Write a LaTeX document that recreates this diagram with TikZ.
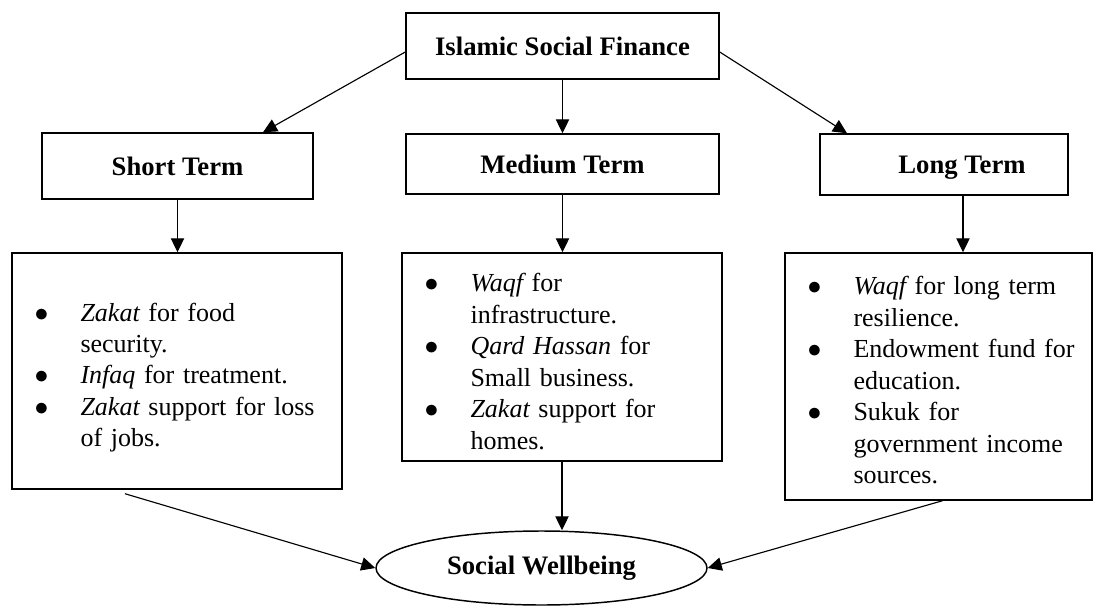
\documentclass[tikz,border=0pt]{standalone}
\usepackage{fontspec}
\setmainfont{Liberation Serif}
\usetikzlibrary{arrows.meta,shapes.geometric}

\newlength\px
\setlength\px{0.75pt}

% bullet list used inside the three boxes
\newenvironment{fundlist}{%
  \begin{list}{$\bullet$}{%
    \setlength\leftmargin{46\px}%
    \settowidth\labelwidth{$\bullet$}%
    \setlength\labelsep{\dimexpr46\px-\labelwidth\relax}%
    \setlength\itemsep{0pt}\setlength\parsep{0pt}%
    \setlength\topsep{0pt}\setlength\partopsep{0pt}}\raggedright}%
  {\end{list}}

\begin{document}
\begin{tikzpicture}[x=0.75pt,y=-0.75pt,
  every node/.style={font=\fontsize{19.5pt}{23.6pt}\selectfont},
  headbox/.style={draw,line width=1.1pt,inner sep=0pt,text height=13.7pt,text depth=0pt,
    font=\fontsize{20pt}{23.6pt}\selectfont\bfseries},
  listbox/.style={draw,line width=1.1pt,inner sep=0pt},
  listtext/.style={anchor=west,text width=290\px,align=left,inner sep=0pt},
  link/.style={-{Triangle[length=10.5pt,width=10pt]},line width=0.85pt}]

\useasboundingbox (0,0) rectangle (1096,607);

% Top
\node[headbox,minimum width=313\px,minimum height=66\px] (isf) at (562.5,46) {Islamic Social Finance};

% Terms
\node[headbox,minimum width=271\px,minimum height=66\px] (st) at (177.5,166) {Short Term};
\node[headbox,minimum width=313\px,minimum height=60\px] (mt) at (562.5,164) {Medium Term};
\node[headbox,minimum width=248\px,minimum height=61\px] (lt) at (944,164.5) {\hspace*{36\px}Long Term};

% Lists
\node[listbox,minimum width=330\px,minimum height=236\px] (stlist) at (177,371) {};
\node[listtext] at ([xshift=23\px]stlist.west) {%
  \begin{fundlist}
  \item {\itshape Zakat} for food\\ security.
  \item {\itshape Infaq} for treatment.
  \item {\itshape Zakat} support for loss\\ of jobs.
  \end{fundlist}};

\node[listbox,minimum width=320\px,minimum height=208\px] (mtlist) at (562,357) {};
\node[listtext] at ([xshift=23\px,yshift=1.5pt]mtlist.west) {%
  \begin{fundlist}
  \item {\itshape Waqf} for\\ infrastructure.
  \item {\itshape Qard Hassan} for\\ Small business.
  \item {\itshape Zakat} support for\\ homes.
  \end{fundlist}};

\node[listbox,minimum width=307\px,minimum height=247\px] (ltlist) at (938.5,376.5) {};
\node[listtext] at ([xshift=23\px,yshift=2pt]ltlist.west) {%
  \begin{fundlist}
  \item {\itshape Waqf} for long term\\ resilience.
  \item Endowment fund for\\ education.
  \item Sukuk for\\ government income\\ sources.
  \end{fundlist}};

% Outcome
\node[ellipse,draw,line width=1.1pt,inner sep=0pt,minimum width=331\px,minimum height=74\px,
  font=\fontsize{20pt}{23.6pt}\selectfont\bfseries] (sw) at (541.5,568) {Social Wellbeing};

% Arrows
\draw[link] ([yshift=-4.5pt]isf.west) -- ([xshift=85.5\px]st.north);
\draw[link] (isf.south) -- (mt.north);
\draw[link] ([yshift=-4.5pt]isf.east) -- ([xshift=-97\px]lt.north);

\coordinate (ltdrop) at ([xshift=19\px]lt.south);
\draw[link] (st.south) -- (st.south |- stlist.north);
\draw[link] (mt.south) -- (mt.south |- mtlist.north);
\draw[link] (ltdrop) -- (ltdrop |- ltlist.north);

\draw[link] ([xshift=-52\px,yshift=-3pt]stlist.south) -- (sw.west);
\draw[link] (mtlist.south) -- (mtlist.south |- sw.north);
\draw[link] ([xshift=4\px]ltlist.south) -- (sw.east);

\end{tikzpicture}
\end{document}
